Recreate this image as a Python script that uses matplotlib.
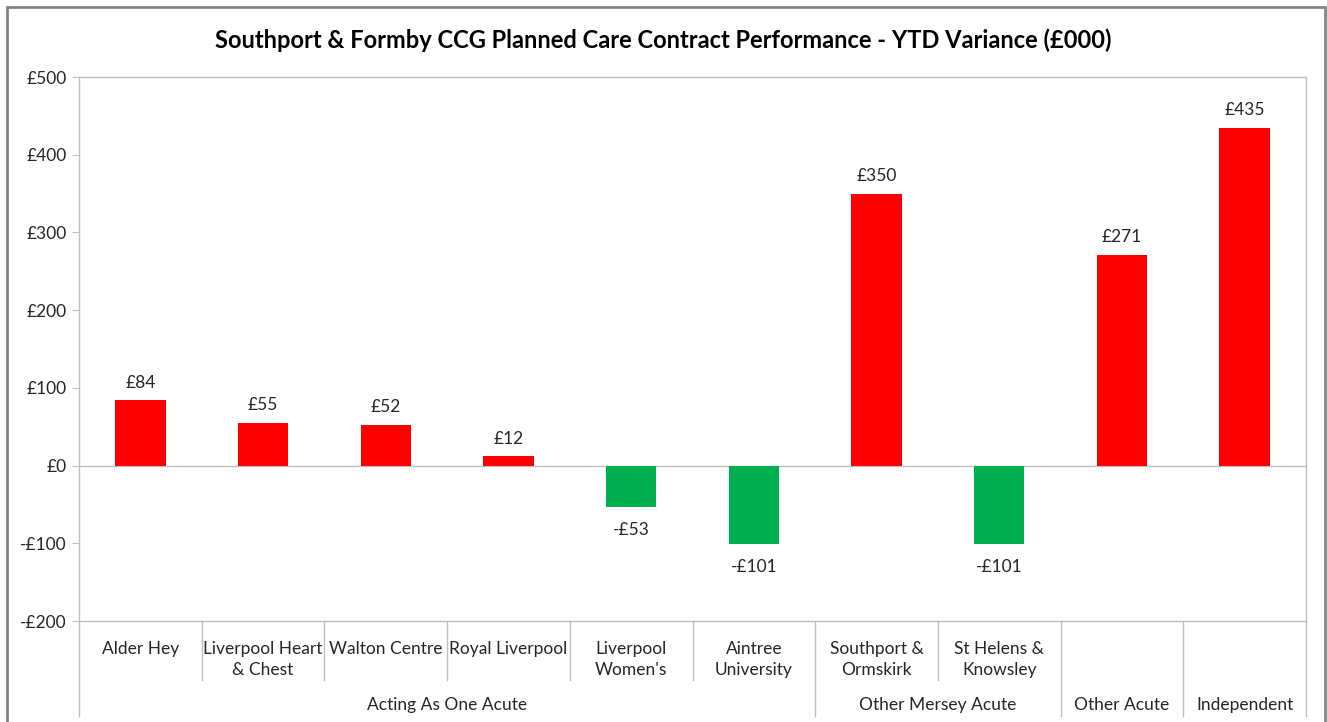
#!/usr/bin/env python3
"""Southport & Formby CCG planned care contract variance chart."""

import matplotlib

matplotlib.use("Agg")
import matplotlib.pyplot as plt
from matplotlib.patches import Rectangle
from matplotlib.transforms import blended_transform_factory

PROVIDERS = [
    "Alder Hey",
    "Liverpool Heart\n& Chest",
    "Walton Centre",
    "Royal Liverpool",
    "Liverpool\nWomen's",
    "Aintree\nUniversity",
    "Southport &\nOrmskirk",
    "St Helens &\nKnowsley",
    "",
    "",
]
VARIANCE = [84, 55, 52, 12, -53, -101, 350, -101, 271, 435]
GROUPS = [
    ("Acting As One Acute", 6),
    ("Other Mersey Acute", 2),
    ("Other Acute", 1),
    ("Independent", 1),
]
Y_TICKS = [-200, -100, 0, 100, 200, 300, 400, 500]

RED = "#FF0000"
GREEN = "#00B050"
GREY = "#BFBFBF"
FONT = ["Lato", "DejaVu Sans"]
FS = 12.5


def money(v):
    return f"-£{abs(v):.0f}" if v < 0 else f"£{v:.0f}"


def main():
    plt.rcParams["font.family"] = FONT
    fig = plt.figure(figsize=(13.27, 7.22), dpi=100)
    fig.patches.append(Rectangle((7 / 1327, -0.05), 1318 / 1327, 1.05 - 7 / 722,
                                 transform=fig.transFigure, fill=False,
                                 edgecolor="#868686", linewidth=2))
    ax = fig.add_axes([79 / 1327, 1 - 621 / 722, 1227 / 1327, 544 / 722])

    n = len(VARIANCE)
    xs = list(range(n))
    colors = [RED if v > 0 else GREEN for v in VARIANCE]
    ax.bar(xs, VARIANCE, width=0.41, color=colors, zorder=2)
    ax.axhline(0, color=GREY, linewidth=1, zorder=1)

    for x, v in zip(xs, VARIANCE):
        off = 7 if v > 0 else -11
        ax.annotate(money(v), (x, v), xytext=(0, off), textcoords="offset points",
                    ha="center", va="bottom" if v > 0 else "top", fontsize=FS,
                    color="#262626")

    ax.set_xlim(-0.5, n - 0.5)
    ax.set_ylim(-200, 500)
    ax.set_yticks(Y_TICKS)
    ax.set_yticklabels([money(v) for v in Y_TICKS], fontsize=FS, color="#262626")
    ax.set_xticks([])
    ax.tick_params(axis="y", length=5, color=GREY, pad=4)
    for side in ax.spines.values():
        side.set_color(GREY)
        side.set_linewidth(1)

    fig.text(0.5, 1 - 40 / 722, "Southport & Formby CCG Planned Care Contract Performance - YTD Variance (£000)",
             fontsize=17, fontweight="bold", ha="center", va="center", color="black")

    trans = blended_transform_factory(ax.transData, ax.transAxes)
    for x, name in zip(xs, PROVIDERS):
        ax.text(x, -0.036, name, transform=trans, ha="center", va="top",
                fontsize=FS, color="#262626", linespacing=1.45)

    # separators: inner ticks short, group edges long
    edges = [-0.5]
    start = 0
    for label, count in GROUPS:
        mid = start + (count - 1) / 2
        ax.text(mid, -0.155, label, transform=trans, ha="center", va="center",
                fontsize=FS, color="#262626")
        start += count
        edges.append(start - 0.5)
    for b in range(n + 1):
        pos = b - 0.5
        low = -0.175 if pos in edges else -0.108
        ax.plot([pos, pos], [0, low], transform=trans, color=GREY,
                linewidth=1, clip_on=False)

    fig.savefig("out.png", dpi=100)


if __name__ == "__main__":
    main()
